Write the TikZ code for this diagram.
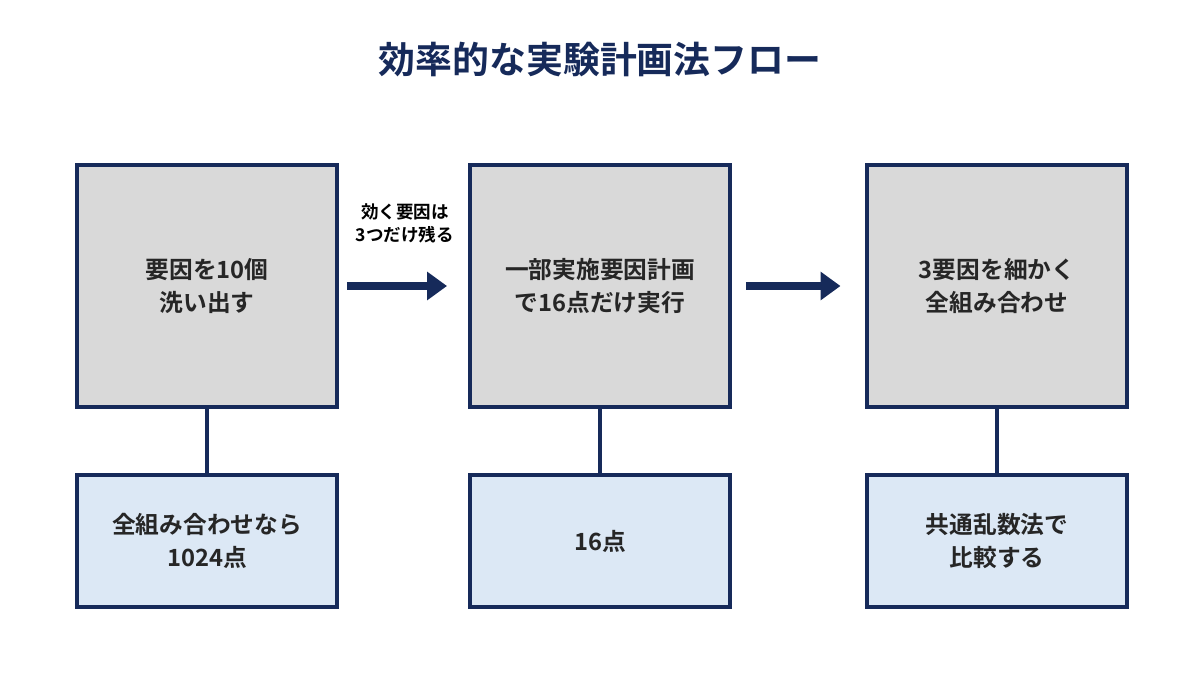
\documentclass[tikz,border=0pt]{standalone}
\usepackage{fontspec}
\setmainfont{Noto Sans CJK JP}[BoldFont={Noto Sans CJK JP Bold}]
\usetikzlibrary{positioning, arrows.meta}
\definecolor{navy}{RGB}{22,42,90}
\definecolor{boxgray}{RGB}{217,217,217}
\definecolor{boxblue}{RGB}{220,232,245}
\begin{document}
\begin{tikzpicture}[x=0.02cm,y=-0.02cm]
    \tikzset{main/.style = {draw=navy, line width=2.2pt, fill=boxgray, minimum width=5.2cm, minimum height=4.85cm, align=center, font=\bfseries\fontsize{13.5}{19}\selectfont, text=black!85}}
    \tikzset{sub/.style = {main, fill=boxblue, minimum height=2.65cm}}
    \tikzset{flow/.style = {-{Triangle[length=4mm,width=5.5mm]}, navy, line width=4pt}}
    \tikzset{link/.style = {navy, line width=2.2pt}}
    \useasboundingbox (0,0) rectangle (1200,675);

    \node[navy, font=\bfseries\fontsize{21}{25}\selectfont] (title) at (600,60) {効率的な実験計画法フロー};

    \node[main] (step1) at (207,286) {要因を10個\\洗い出す};
    \node[main] (step2) at (600,286) {一部実施要因計画\\で16点だけ実行};
    \node[main] (step3) at (997,286) {3要因を細かく\\全組み合わせ};

    \node[sub] (note1) at (207,541) {全組み合わせなら\\1024点};
    \node[sub] (note2) at (600,541) {16点};
    \node[sub] (note3) at (997,541) {共通乱数法で\\比較する};

    \draw[link] (step1) -- (note1);
    \draw[link] (step2) -- (note2);
    \draw[link] (step3) -- (note3);

    % flow arrows
    \draw[flow] (step1.east) ++(8,0) coordinate (a1) -- ([xshift=-12]step2.west);
    \draw[flow] (step2.east) ++(14,0) coordinate (a2) -- ([xshift=-14]step3.west);

    \node[font=\bfseries\fontsize{10}{13}\selectfont, align=center] (keep) at (405,223) {効く要因は\\3つだけ残る};
\end{tikzpicture}
\end{document}
